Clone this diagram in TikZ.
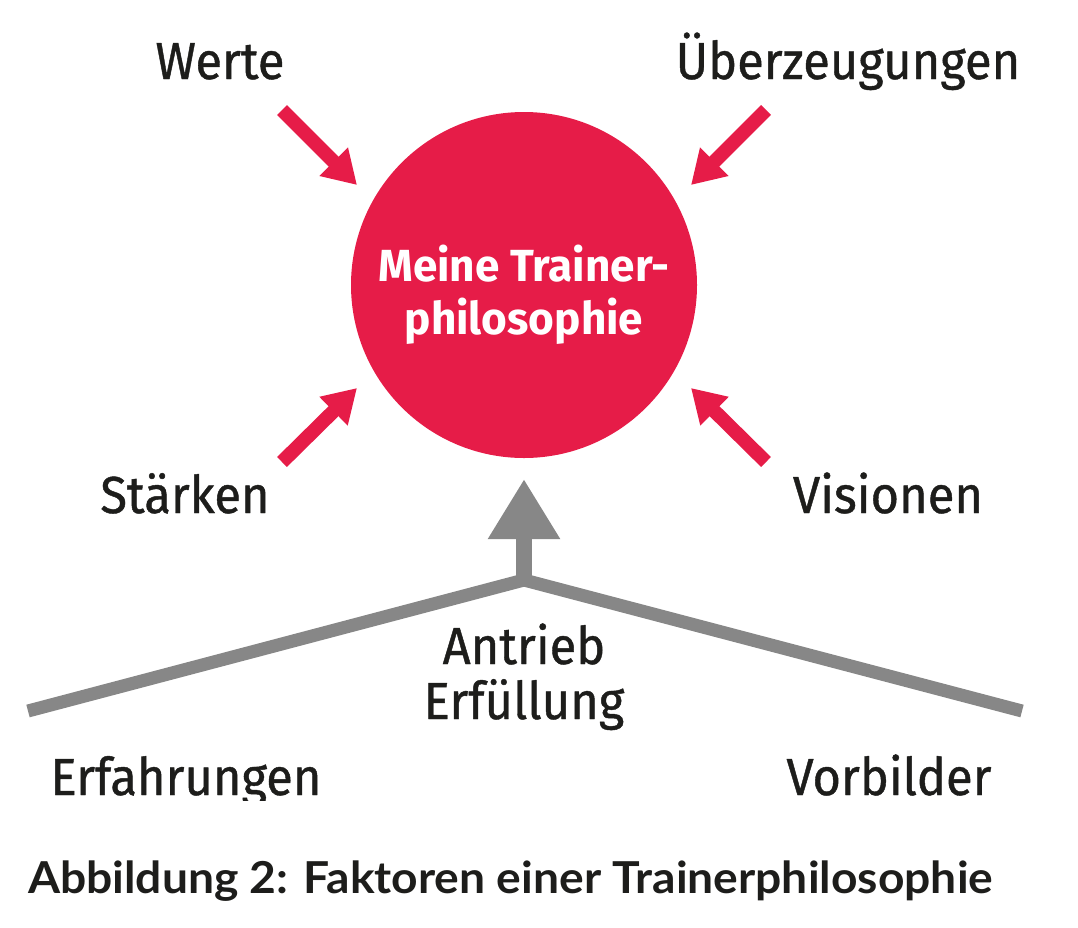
\documentclass[tikz,border=0pt]{standalone}
\usepackage{fontspec}
\setmainfont{Fira Sans}[FakeStretch=0.94, FakeBold=0.8]
\newfontfamily\titolofont{Fira Sans}[FakeStretch=0.98]
\newfontfamily\didafont{Lato}[FakeStretch=1.05]
\usetikzlibrary{arrows.meta}
\definecolor{rosso}{RGB}{230,28,72}
\definecolor{grigio}{RGB}{135,135,135}
\definecolor{nero}{RGB}{29,29,27}
\tikzset{
    fattore/.style={text=nero, anchor=base, inner sep=0pt, font=\fontsize{52}{60}\selectfont},
    freccia/.style={-{Triangle[width=38pt,length=33pt]}, line width=14pt, draw=rosso},
    ramo/.style={line width=13pt, draw=grigio, line join=miter},
}
\begin{document}
\begin{tikzpicture}[x=1pt,y=-1pt]
        \useasboundingbox (0,0) rectangle (1078,927);

         % Cerchio centrale
        \node[circle, fill=rosso, minimum size=346pt, inner sep=0pt] (cerchio) at (524,285) {};
        \node[text=white, align=center, inner sep=0pt, font=\titolofont\bfseries\fontsize{45}{53}\selectfont] (titolo) at ([yshift=-10pt]cerchio.center) {Meine Trainer-\\philosophie};

         % Fattori
        \node[fattore] (werte) at (220,79) {Werte};
        \node[fattore] (ueber) at (848,79) {Überzeugungen};
        \node[fattore] (staerken) at (185,513) {Stärken};
        \node[fattore] (visionen) at (888,513) {Visionen};
        \node[fattore] (antrieb) at (524,664) {Antrieb};
        \node[fattore] (erfuellung) at (524,719) {Erfüllung};
        \begin{scope}
            \clip (0,0) rectangle (1078,800);
            \node[fattore] (erfahrungen) at (186,795) {Erfahrungen};
            \node[fattore] (vorbilder) at (889,795) {Vorbilder};
        \end{scope}

         % Frecce rosse
        \coordinate (w1) at (282,110);  \coordinate (w2) at (357,185);
        \coordinate (u1) at (766,110);  \coordinate (u2) at (691,185);
        \coordinate (s1) at (282,462);  \coordinate (s2) at (357,388);
        \coordinate (v1) at (766,462);  \coordinate (v2) at (691,388);
        \draw[freccia] (w1) -- (w2);
        \draw[freccia] (u1) -- (u2);
        \draw[freccia] (s1) -- (s2);
        \draw[freccia] (v1) -- (v2);

         % Freccia grigia
        \coordinate (sx) at (28,711);
        \coordinate (apice) at (524,580);
        \coordinate (dx) at (1022,711);
        \coordinate (punta) at (524,479);
        \draw[ramo] (sx) -- (apice) -- (dx);
        \draw[-{Triangle[width=68pt,length=60pt]}, line width=16.5pt, draw=grigio] (apice) -- (punta);

         % Didascalia
        \node[anchor=base west, inner sep=0pt, text=nero, font=\didafont\bfseries\fontsize{44}{50}\selectfont] (dida) at (28,893) {Abbildung 2: Faktoren einer Trainerphilosophie};
\end{tikzpicture}
\end{document}
